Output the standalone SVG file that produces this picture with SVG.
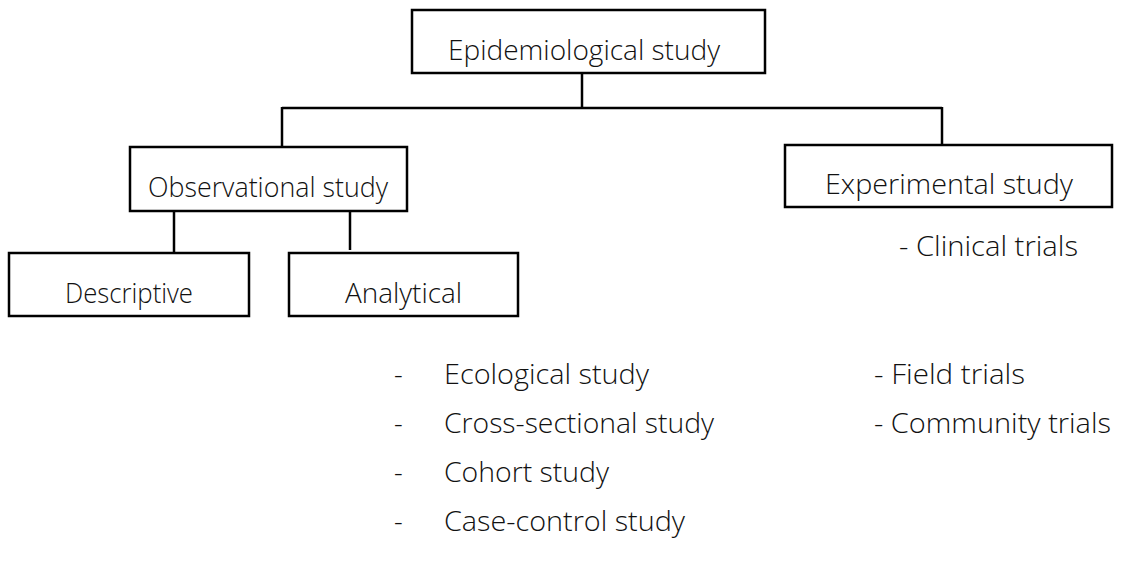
<svg xmlns="http://www.w3.org/2000/svg" width="1121" height="571" viewBox="0 0 1121 571">
<style>
.box{fill:#fff;stroke:#000;stroke-width:2.5}
.ln{stroke:#000;stroke-width:2.5;fill:none}
text{font-family:"Open Sans","Noto Sans","Liberation Sans",sans-serif;font-size:27px;fill:#111;font-weight:300}
</style>
<rect width="1121" height="571" fill="#fff"/>
<g id="connectors">
<line class="ln" x1="582" y1="73" x2="582" y2="108"/>
<line class="ln" x1="282" y1="108" x2="942" y2="108"/>
<line class="ln" x1="282" y1="107" x2="282" y2="147"/>
<line class="ln" x1="942" y1="107" x2="942" y2="145"/>
<line class="ln" x1="174" y1="211" x2="174" y2="252"/>
<line class="ln" x1="350" y1="211" x2="350" y2="250"/>
</g>
<g id="epidemiological">
<rect class="box" x="412" y="10" width="353" height="63"/>
<text x="448" y="60" textLength="272" lengthAdjust="spacingAndGlyphs">Epidemiological study</text>
</g>
<g id="observational">
<rect class="box" x="130" y="147" width="277" height="64"/>
<text x="148" y="197" textLength="240" lengthAdjust="spacingAndGlyphs">Observational study</text>
</g>
<g id="experimental">
<rect class="box" x="785" y="145" width="327" height="62"/>
<text x="825" y="194" textLength="248" lengthAdjust="spacingAndGlyphs">Experimental study</text>
</g>
<g id="descriptive">
<rect class="box" x="9" y="253" width="240" height="63"/>
<text x="65" y="303" textLength="128" lengthAdjust="spacingAndGlyphs">Descriptive</text>
</g>
<g id="analytical">
<rect class="box" x="289" y="253" width="229" height="63"/>
<text x="345" y="303" textLength="117" lengthAdjust="spacingAndGlyphs">Analytical</text>
</g>
<g id="analytical-list">
<text x="394" y="384">-</text><text x="444" y="384" textLength="205" lengthAdjust="spacingAndGlyphs">Ecological study</text>
<text x="394" y="433">-</text><text x="444" y="433" textLength="270" lengthAdjust="spacingAndGlyphs">Cross-sectional study</text>
<text x="394" y="482">-</text><text x="444" y="482" textLength="165" lengthAdjust="spacingAndGlyphs">Cohort study</text>
<text x="394" y="531">-</text><text x="444" y="531" textLength="241" lengthAdjust="spacingAndGlyphs">Case-control study</text>
</g>
<g id="experimental-list">
<text x="899" y="256" textLength="179" lengthAdjust="spacingAndGlyphs">- Clinical trials</text>
<text x="874" y="384" textLength="151" lengthAdjust="spacingAndGlyphs">- Field trials</text>
<text x="874" y="433" textLength="237" lengthAdjust="spacingAndGlyphs">- Community trials</text>
</g>
</svg>
